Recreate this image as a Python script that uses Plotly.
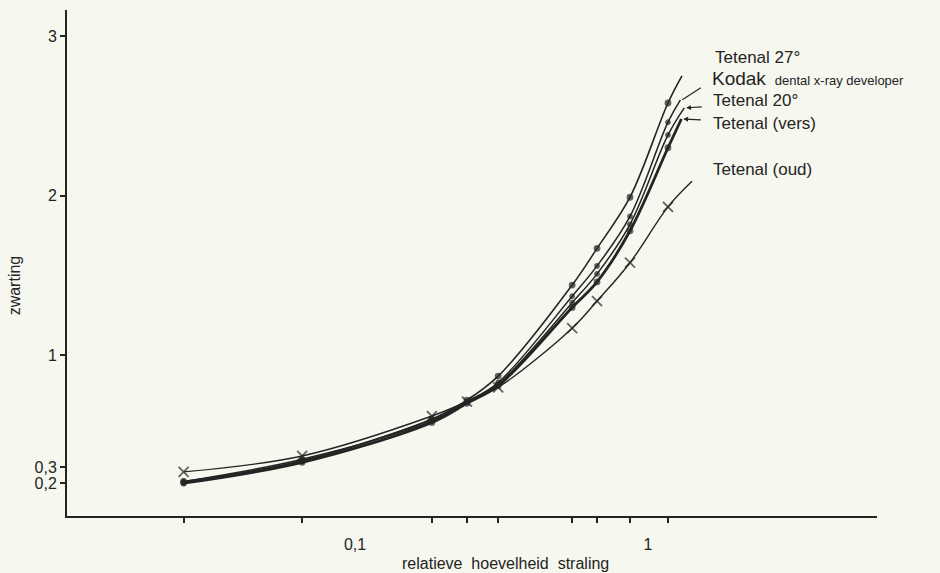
import math
import plotly.graph_objects as go

# relative amount of radiation (log scale) at which each film was measured,
# plus the point where each hand-drawn curve ends
exposure = [0.026, 0.066, 0.183, 0.241, 0.308, 0.551, 0.670, 0.868, 1.17]

tetenal_27 = [0.21, 0.34, 0.60, 0.72, 0.87, 1.44, 1.67, 1.99, 2.58]
kodak = [0.20, 0.34, 0.60, 0.71, 0.83, 1.37, 1.56, 1.87, 2.46]
tetenal_20 = [0.21, 0.35, 0.59, 0.71, 0.82, 1.33, 1.51, 1.82, 2.38]
tetenal_vers = [0.20, 0.33, 0.58, 0.70, 0.81, 1.30, 1.46, 1.78, 2.30]
tetenal_oud = [0.27, 0.37, 0.62, 0.71, 0.80, 1.17, 1.34, 1.58, 1.93]

# where each curve is extended beyond the last measurement
curve_end_x = {"27": 1.306, "kodak": 1.29, "20": 1.33, "vers": 1.30, "oud": 1.413}
curve_end_y = {"27": 2.75, "kodak": 2.60, "20": 2.55, "vers": 2.48, "oud": 2.09}

y_ticks = [0.2, 0.3, 1, 2, 3]
y_ticktext = ["0,2", "0,3", "1", "2", "3"]
x_labels = [0.1, 1]
x_labeltext = ["0,1", "1"]

INK = "#242424"
PAPER = "#f6f7ee"
FONT = "Liberation Sans, Arial, sans-serif"

fig = go.Figure()


def add_curve(values, key, symbol, size, width, name):
    xs = exposure + [curve_end_x[key]]
    ys = values + [curve_end_y[key]]
    sizes = [size] * len(values) + [0]
    fig.add_trace(go.Scatter(
        x=xs, y=ys, name=name, mode="lines+markers",
        line=dict(color=INK, width=width, shape="spline", smoothing=1.0),
        marker=dict(symbol=symbol, size=sizes, color=INK,
                    line=dict(color=INK, width=1.8)),
        showlegend=False,
    ))


add_curve(tetenal_oud, "oud", "x-thin", 10, 1.4, "Tetenal (oud)")
add_curve(tetenal_20, "20", "circle", 4, 1.5, "Tetenal 20°")
add_curve(kodak, "kodak", "circle", 4, 1.5, "Kodak")
add_curve(tetenal_vers, "vers", "circle", 5, 2.8, "Tetenal (vers)")
add_curve(tetenal_27, "27", "circle", 5, 1.6, "Tetenal 27°")

# curve names written beside the ends of the curves
labels = [
    ("Tetenal 27°", 0.7975, 0.907, 17),
    ("Kodak <span style='font-size:13px'> dental x-ray developer</span>", 0.7938, 0.864, 19),
    ("Tetenal 20°", 0.7951, 0.822, 17),
    ("Tetenal (vers)", 0.7951, 0.775, 17),
    ("Tetenal (oud)", 0.7951, 0.684, 17),
]
for text, xp, yp, size in labels:
    fig.add_annotation(text=text, x=xp, y=yp, xref="paper", yref="paper",
                       xanchor="left", yanchor="middle", showarrow=False,
                       font=dict(family=FONT, size=size, color=INK))

# short pointers from labels to their curves (log axis: position in log10)
pointers = [("kodak", 20, -13, 0), ("20", 17, -1, 2), ("vers", 19, 1, 2)]
for key, ax, ay, head in pointers:
    fig.add_annotation(x=math.log10(curve_end_x[key] * 1.015),
                       y=curve_end_y[key], xref="x", yref="y",
                       ax=ax, ay=ay, text="", showarrow=True,
                       arrowhead=head, arrowsize=0.8, arrowwidth=1.2,
                       arrowcolor=INK)

xrange = [-1.983, 0.7816]

fig.update_layout(
    width=940, height=573,
    margin=dict(l=67, r=63, t=10, b=57),
    paper_bgcolor=PAPER, plot_bgcolor=PAPER,
    font=dict(family=FONT, size=14, color=INK),
    xaxis=dict(
        type="log", range=xrange, showgrid=False, zeroline=False,
        showline=True, linecolor=INK, linewidth=2,
        tickmode="array", tickvals=exposure,
        ticktext=[""] * len(exposure),
        ticks="outside", ticklen=5, tickwidth=1.5, tickcolor=INK,
    ),
    xaxis2=dict(
        type="log", range=xrange, overlaying="x", side="bottom",
        showgrid=False, zeroline=False, showline=False,
        tickmode="array", tickvals=x_labels, ticktext=x_labeltext,
        ticks="", ticklabelstandoff=17,
        tickfont=dict(family=FONT, size=16, color=INK),
    ),
    yaxis=dict(
        range=[-0.006, 3.1625], showgrid=False, zeroline=False,
        showline=True, linecolor=INK, linewidth=2,
        tickmode="array", tickvals=y_ticks, ticktext=y_ticktext,
        ticks="outside", ticklen=5, tickwidth=1.5, tickcolor=INK,
        tickfont=dict(family=FONT, size=16, color=INK),
    ),
)

# invisible trace so the labelled log axis is drawn
fig.add_trace(go.Scatter(x=[0.1], y=[None], xaxis="x2", showlegend=False,
                         hoverinfo="skip"))

fig.add_annotation(text="relatieve  hoevelheid  straling", x=(505 - 67) / 810,
                   y=-0.093, xref="paper", yref="paper", xanchor="center",
                   yanchor="middle", showarrow=False,
                   font=dict(family=FONT, size=16, color=INK))
fig.add_annotation(text="zwarting", x=-0.065, y=(516 - 285) / 506,
                   xref="paper", yref="paper", xanchor="center",
                   yanchor="middle", textangle=-90, showarrow=False,
                   font=dict(family=FONT, size=16, color=INK))

fig.write_html("out.html")
